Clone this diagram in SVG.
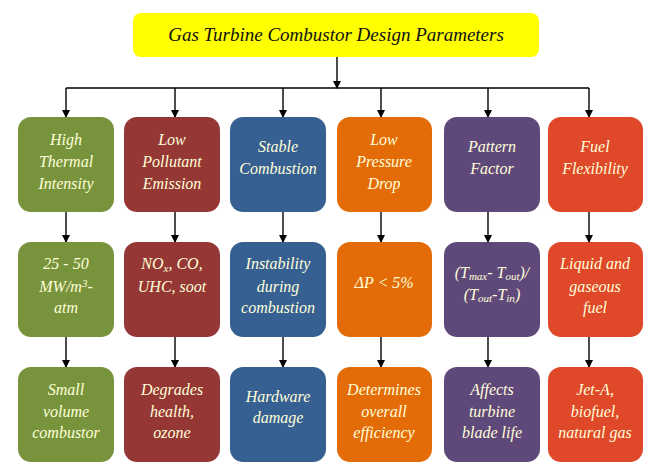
<svg xmlns="http://www.w3.org/2000/svg" width="654" height="475" viewBox="0 0 654 475">
<defs>
<marker id="ah" markerWidth="8" markerHeight="10" refX="7" refY="4" orient="auto" markerUnits="userSpaceOnUse" viewBox="0 0 8 8"><path d="M0,0 L8,4 L0,8 z" fill="#000"/></marker>
<style>
.t{font-family:"Liberation Serif",serif;font-style:italic;font-size:16px;fill:#FFFFD9;text-anchor:middle}
.title{font-family:"Liberation Serif",serif;font-style:italic;font-size:19px;fill:#111;text-anchor:middle}
.ln{stroke:#000;stroke-width:1.4;fill:none}
.ar{stroke:#000;stroke-width:1.4;fill:none;marker-end:url(#ah)}
.g{fill:#77933C}.r{fill:#953735}.b{fill:#376092}.o{fill:#E36C09}.p{fill:#5F497A}.f{fill:#E0482A}
.sub{font-size:11px}
</style>
</defs>
<rect width="654" height="475" fill="#fff"/>
<g id="connectors">
<line class="ar" x1="337" y1="57" x2="337" y2="88"/>
<line class="ln" x1="66" y1="88" x2="589" y2="88"/>
<line class="ar" x1="66" y1="88" x2="66" y2="117"/>
<line class="ar" x1="175" y1="88" x2="175" y2="117"/>
<line class="ar" x1="283" y1="88" x2="283" y2="117"/>
<line class="ar" x1="381" y1="88" x2="381" y2="117"/>
<line class="ar" x1="488" y1="88" x2="488" y2="117"/>
<line class="ar" x1="589" y1="88" x2="589" y2="117"/>
<line class="ar" x1="66" y1="212" x2="66" y2="242"/>
<line class="ar" x1="175" y1="212" x2="175" y2="242"/>
<line class="ar" x1="283" y1="212" x2="283" y2="242"/>
<line class="ar" x1="381" y1="212" x2="381" y2="242"/>
<line class="ar" x1="488" y1="212" x2="488" y2="242"/>
<line class="ar" x1="589" y1="212" x2="589" y2="242"/>
<line class="ar" x1="66" y1="337" x2="66" y2="367"/>
<line class="ar" x1="175" y1="337" x2="175" y2="367"/>
<line class="ar" x1="283" y1="337" x2="283" y2="367"/>
<line class="ar" x1="381" y1="337" x2="381" y2="367"/>
<line class="ar" x1="488" y1="337" x2="488" y2="367"/>
<line class="ar" x1="589" y1="337" x2="589" y2="367"/>
</g>
<g id="title">
<rect x="133" y="13" width="406" height="44" rx="8" fill="#FFFF00"/>
<text class="title" x="336" y="41">Gas Turbine Combustor Design Parameters</text>
</g>
<g id="n-high-thermal">
<rect class="g" x="18" y="117" width="96" height="95" rx="13"/>
<text class="t" x="66" y="145">High</text><text class="t" x="66" y="167">Thermal</text><text class="t" x="66" y="189">Intensity</text>
</g>
<g id="n-low-pollutant">
<rect class="r" x="124" y="117" width="96" height="95" rx="13"/>
<text class="t" x="172" y="145">Low</text><text class="t" x="172" y="167">Pollutant</text><text class="t" x="172" y="189">Emission</text>
</g>
<g id="n-stable">
<rect class="b" x="230" y="117" width="96" height="95" rx="13"/>
<text class="t" x="278" y="152">Stable</text><text class="t" x="278" y="174">Combustion</text>
</g>
<g id="n-low-pressure">
<rect class="o" x="337" y="117" width="95" height="95" rx="13"/>
<text class="t" x="384" y="145">Low</text><text class="t" x="384" y="167">Pressure</text><text class="t" x="384" y="189">Drop</text>
</g>
<g id="n-pattern">
<rect class="p" x="444" y="117" width="96" height="95" rx="13"/>
<text class="t" x="492" y="152">Pattern</text><text class="t" x="492" y="174">Factor</text>
</g>
<g id="n-fuel">
<rect class="f" x="548" y="117" width="95" height="95" rx="13"/>
<text class="t" x="595" y="152">Fuel</text><text class="t" x="595" y="174">Flexibility</text>
</g>
<g id="n-mw">
<rect class="g" x="18" y="242" width="96" height="95" rx="13"/>
<text class="t" x="66" y="269">25 - 50</text><text class="t" x="66" y="292">MW/m<tspan class="sub" dy="-5">3</tspan><tspan dy="5">-</tspan></text><text class="t" x="66" y="313">atm</text>
</g>
<g id="n-nox">
<rect class="r" x="124" y="242" width="96" height="95" rx="13"/>
<text class="t" x="172" y="269">NO<tspan class="sub" dy="3">x</tspan><tspan dy="-3">, CO,</tspan></text><text class="t" x="172" y="292">UHC, soot</text>
</g>
<g id="n-instability">
<rect class="b" x="230" y="242" width="96" height="95" rx="13"/>
<text class="t" x="278" y="269">Instability</text><text class="t" x="278" y="292">during</text><text class="t" x="278" y="313">combustion</text>
</g>
<g id="n-dp">
<rect class="o" x="337" y="242" width="95" height="95" rx="13"/>
<text class="t" x="384" y="288">ΔP &lt; 5%</text>
</g>
<g id="n-tratio">
<rect class="p" x="444" y="242" width="96" height="95" rx="13"/>
<text class="t" x="492" y="278">(T<tspan class="sub" dy="2">max</tspan><tspan dy="-2">- T</tspan><tspan class="sub" dy="2">out</tspan><tspan dy="-2">)/</tspan></text>
<text class="t" x="492" y="300">(T<tspan class="sub" dy="2">out</tspan><tspan dy="-2">-T</tspan><tspan class="sub" dy="2">in</tspan><tspan dy="-2">)</tspan></text>
</g>
<g id="n-liquid">
<rect class="f" x="548" y="242" width="95" height="95" rx="13"/>
<text class="t" x="595" y="269">Liquid and</text><text class="t" x="595" y="292">gaseous</text><text class="t" x="595" y="313">fuel</text>
</g>
<g id="n-small">
<rect class="g" x="18" y="367" width="96" height="95" rx="13"/>
<text class="t" x="66" y="395">Small</text><text class="t" x="66" y="417">volume</text><text class="t" x="66" y="438">combustor</text>
</g>
<g id="n-degrades">
<rect class="r" x="124" y="367" width="96" height="95" rx="13"/>
<text class="t" x="172" y="395">Degrades</text><text class="t" x="172" y="417">health,</text><text class="t" x="172" y="438">ozone</text>
</g>
<g id="n-hardware">
<rect class="b" x="230" y="367" width="96" height="95" rx="13"/>
<text class="t" x="278" y="402">Hardware</text><text class="t" x="278" y="423">damage</text>
</g>
<g id="n-efficiency">
<rect class="o" x="337" y="367" width="95" height="95" rx="13"/>
<text class="t" x="384" y="395">Determines</text><text class="t" x="384" y="417">overall</text><text class="t" x="384" y="438">efficiency</text>
</g>
<g id="n-blade">
<rect class="p" x="444" y="367" width="96" height="95" rx="13"/>
<text class="t" x="492" y="395">Affects</text><text class="t" x="492" y="417">turbine</text><text class="t" x="492" y="438">blade life</text>
</g>
<g id="n-jet">
<rect class="f" x="548" y="367" width="95" height="95" rx="13"/>
<text class="t" x="595" y="395">Jet-A,</text><text class="t" x="595" y="417">biofuel,</text><text class="t" x="595" y="438">natural gas</text>
</g>
</svg>
